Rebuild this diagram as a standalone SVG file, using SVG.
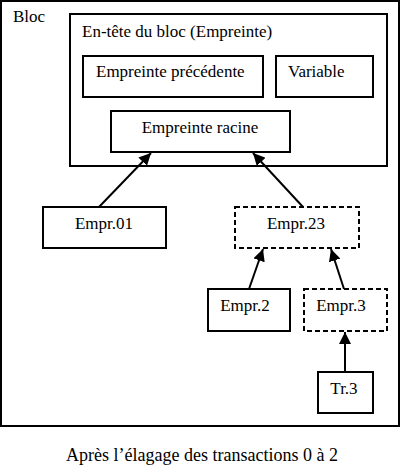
<svg xmlns="http://www.w3.org/2000/svg" width="401" height="466" viewBox="0 0 401 466">
<style>
.b{fill:#fff;stroke:#000;stroke-width:2}
.d{fill:#fff;stroke:#000;stroke-width:2;stroke-dasharray:5 3}
.t{font-family:'Liberation Serif','DejaVu Serif',serif;font-size:17px;fill:#000}
.c{text-anchor:middle}
.l{stroke:#000;stroke-width:2;fill:none}
</style>
<defs>
<marker id="ah" viewBox="0 0 10 10" refX="10" refY="5" markerWidth="6" markerHeight="6" markerUnits="strokeWidth" orient="auto">
<path d="M0,0 L10,5 L0,10 z" fill="#000"/>
</marker>
</defs>
<rect width="401" height="466" fill="#fff"/>
<g id="bloc">
<rect class="b" x="1" y="1" width="398" height="425"/>
<text class="t" x="13" y="22">Bloc</text>
</g>
<g id="entete">
<rect class="b" x="70" y="14" width="317" height="152"/>
<text class="t" x="82" y="37">En-tête du bloc (Empreinte)</text>
</g>
<g id="precedente">
<rect class="b" x="83" y="56" width="180" height="41"/>
<text class="t" x="96" y="77">Empreinte précédente</text>
</g>
<g id="variable">
<rect class="b" x="276" y="56" width="97" height="41"/>
<text class="t" x="288" y="77">Variable</text>
</g>
<g id="racine">
<rect class="b" x="111" y="111" width="179" height="41"/>
<text class="t c" x="200" y="133">Empreinte racine</text>
</g>
<g id="empr01">
<rect class="b" x="43" y="207" width="123" height="41"/>
<text class="t c" x="104" y="229">Empr.01</text>
</g>
<g id="empr23">
<rect class="d" x="235" y="207" width="124" height="41"/>
<text class="t c" x="296" y="229">Empr.23</text>
</g>
<g id="empr2">
<rect class="b" x="208" y="289" width="82" height="42"/>
<text class="t c" x="245" y="311">Empr.2</text>
</g>
<g id="empr3">
<rect class="d" x="304" y="289" width="83" height="42"/>
<text class="t c" x="341" y="311">Empr.3</text>
</g>
<g id="tr3">
<rect class="b" x="318" y="372" width="55" height="41"/>
<text class="t c" x="344" y="394">Tr.3</text>
</g>
<g id="connectors">
<line class="l" x1="99" y1="207" x2="151" y2="153" marker-end="url(#ah)"/>
<line class="l" x1="303" y1="207" x2="253" y2="153" marker-end="url(#ah)"/>
<line class="l" x1="249" y1="289" x2="263" y2="249" marker-end="url(#ah)"/>
<line class="l" x1="344" y1="289" x2="331" y2="249" marker-end="url(#ah)"/>
<line class="l" x1="345" y1="372" x2="345" y2="332" marker-end="url(#ah)"/>
</g>
<text class="t c" x="202" y="461" style="font-size:18px">Après l’élagage des transactions 0 à 2</text>
</svg>
